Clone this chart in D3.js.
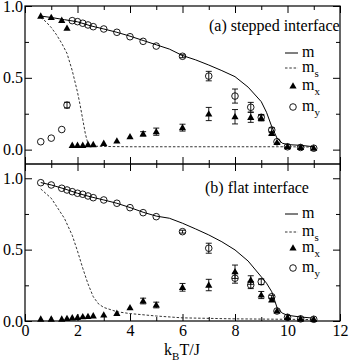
<!DOCTYPE html>
<html>
<head>
<meta charset="utf-8">
<script src="https://cdn.jsdelivr.net/npm/d3@7/dist/d3.min.js"></script>
<style>
  body { margin: 0; background: #fff; }
  svg { display: block; }
  svg text { font-family: "Liberation Serif", "Times New Roman", "DejaVu Serif", serif !important; fill: #000; }
</style>
</head>
<body>
<svg id="chart" width="349" height="363"></svg>
<script>
// temperatures of the simulated points (both panels)
const T_PTS = [0.6, 1.0, 1.4, 1.6, 1.8, 2.0, 2.2, 2.4, 2.6, 3.0, 3.5, 4.0, 4.5, 5.0, 6, 7, 8, 8.6, 9, 9.4, 9.6, 10, 10.5, 11];

// (a) stepped interface
const A_M_T = [0.6, 1, 1.5, 2, 2.5, 3, 3.5, 4, 4.5, 5, 5.5, 6, 6.5, 7, 7.5, 8, 8.5, 9, 9.2, 9.4, 9.6, 9.8, 10, 10.5, 11];
const A_M   = [0.93, 0.92, 0.905, 0.89, 0.862, 0.84, 0.817, 0.79, 0.76, 0.73, 0.70, 0.655, 0.625, 0.589, 0.55, 0.508, 0.435, 0.334, 0.26, 0.16, 0.08, 0.045, 0.035, 0.03, 0.02];
const A_MS_T = [0.6, 0.8, 1.0, 1.2, 1.4, 1.6, 1.8, 2.0, 2.1, 2.2, 2.3, 2.4, 2.5, 3, 4, 6, 8, 10, 11];
const A_MS   = [0.92, 0.89, 0.85, 0.80, 0.74, 0.67, 0.55, 0.40, 0.31, 0.21, 0.11, 0.04, 0.025, 0.022, 0.02, 0.02, 0.02, 0.02, 0.018];
const A_MX     = [0.93, 0.92, 0.90, 0.845, 0.03, 0.03, 0.03, 0.035, 0.035, 0.044, 0.06, 0.09, 0.11, 0.125, 0.153, 0.248, 0.229, 0.225, 0.22, 0.113, 0.05, 0.02, 0.015, 0.01];
const A_MX_ERR = [0, 0, 0, 0, 0, 0, 0, 0, 0, 0, 0, 0, 0.015, 0.025, 0.024, 0.046, 0.05, 0.035, 0.02, 0.01, 0, 0, 0, 0];
const A_MY     = [0.055, 0.08, 0.14, 0.31, 0.898, 0.891, 0.88, 0.868, 0.856, 0.84, 0.817, 0.786, 0.754, 0.721, 0.65, 0.512, 0.373, 0.295, 0.225, 0.137, 0.055, 0.02, 0.015, 0.01];
const A_MY_ERR = [0, 0, 0, 0.02, 0, 0, 0, 0, 0, 0, 0, 0, 0, 0, 0.01, 0.033, 0.049, 0.034, 0.02, 0.015, 0, 0, 0, 0];

// (b) flat interface
const B_M_T = [0.6, 1, 1.5, 2, 2.5, 3, 3.5, 4, 4.5, 5, 5.5, 6, 6.5, 7, 7.5, 8, 8.5, 9, 9.2, 9.4, 9.6, 9.8, 10, 10.5, 11];
const B_M   = [0.97, 0.953, 0.926, 0.895, 0.87, 0.848, 0.825, 0.795, 0.762, 0.735, 0.72, 0.685, 0.645, 0.603, 0.555, 0.498, 0.42, 0.31, 0.265, 0.205, 0.095, 0.055, 0.04, 0.028, 0.02];
const B_MS_T = [0.6, 1.0, 1.5, 1.8, 2.0, 2.2, 2.4, 2.6, 2.8, 3.0, 3.5, 4, 5, 6, 8, 10, 11];
const B_MS   = [0.925, 0.86, 0.72, 0.60, 0.49, 0.37, 0.26, 0.17, 0.12, 0.095, 0.065, 0.052, 0.035, 0.022, 0.015, 0.012, 0.01];
const B_MX     = [0.013, 0.013, 0.013, 0.018, 0.022, 0.025, 0.03, 0.032, 0.036, 0.042, 0.054, 0.093, 0.14, 0.112, 0.236, 0.252, 0.345, 0.287, 0.182, 0.147, 0.07, 0.026, 0.015, 0.012];
const B_MX_ERR = [0, 0, 0, 0, 0, 0, 0, 0, 0, 0, 0, 0, 0.02, 0.02, 0.027, 0.04, 0.047, 0.03, 0.025, 0.01, 0, 0, 0, 0];
const B_MY     = [0.969, 0.953, 0.930, 0.918, 0.906, 0.895, 0.888, 0.876, 0.864, 0.848, 0.825, 0.794, 0.759, 0.731, 0.626, 0.51, 0.30, 0.252, 0.275, 0.17, 0.07, 0.026, 0.015, 0.012];
const B_MY_ERR = [0, 0, 0, 0, 0, 0, 0, 0, 0, 0, 0, 0, 0, 0, 0.01, 0.035, 0.035, 0.025, 0.02, 0.01, 0, 0, 0, 0];

const X_MAJOR = [0, 2, 4, 6, 8, 10, 12];
const X_MINOR = [1, 3, 5, 7, 9, 11];
const Y_MAJOR = [0, 0.5, 1.0];
const Y_MINOR = [0.25, 0.75];
const LEGEND = ["m", "s", "x", "y"];

const SERIF = "'Liberation Serif', 'Times New Roman', 'DejaVu Serif', serif";
const svg = d3.select("#chart").attr("font-family", SERIF);
const left = 25, right = 340;
const x = d3.scaleLinear().domain([0, 12]).range([left, right]);

const panels = [
  { title: "(a) stepped interface", top: 6, bottom: 164, dom: [-0.1, 1.0], titleX: 209, titleY: 25,
    mT: A_M_T, m: A_M, msT: A_MS_T, ms: A_MS, mx: A_MX, mxErr: A_MX_ERR, my: A_MY, myErr: A_MY_ERR, legY: [47, 62, 80, 101], bottomLabels: false },
  { title: "(b) flat interface", top: 164, bottom: 321, dom: [0, 1.1], titleX: 205, titleY: 29,
    mT: B_M_T, m: B_M, msT: B_MS_T, ms: B_MS, mx: B_MX, mxErr: B_MX_ERR, my: B_MY, myErr: B_MY_ERR, legY: [50, 68, 84, 104], bottomLabels: true }
];

function triangle(g, cx, cy) {
  g.append("path")
    .attr("d", `M${cx},${cy - 3.8}L${cx + 3.6},${cy + 2.6}L${cx - 3.6},${cy + 2.6}Z`)
    .attr("fill", "#000");
}
function circle(g, cx, cy) {
  g.append("circle").attr("cx", cx).attr("cy", cy).attr("r", 3.3)
    .attr("fill", "none").attr("stroke", "#000").attr("stroke-width", 0.9);
}

panels.forEach(p => {
  const y = d3.scaleLinear().domain(p.dom).range([p.bottom, p.top]);
  const g = svg.append("g");

  // 轴刻度（向内）
  const tickStyle = sel => {
    sel.attr("font-family", SERIF).attr("font-size", 16);
    sel.select(".domain").remove();
    sel.selectAll("line").attr("stroke", "#000").attr("stroke-width", 1);
    sel.selectAll("text").style("font-size", "16px").style("font-family", SERIF);
  };
  g.append("g").attr("transform", `translate(${left},0)`)
    .call(d3.axisLeft(y).tickValues(Y_MAJOR).tickSize(-7).tickPadding(2).tickFormat(d3.format(".1f")))
    .call(tickStyle);
  g.append("g").attr("transform", `translate(${left},0)`)
    .call(d3.axisLeft(y).tickValues(Y_MINOR).tickSize(-4).tickFormat(""))
    .call(tickStyle);
  g.append("g").attr("transform", `translate(${right},0)`)
    .call(d3.axisRight(y).tickValues(Y_MAJOR).tickSize(-7).tickFormat(""))
    .call(tickStyle);
  g.append("g").attr("transform", `translate(${right},0)`)
    .call(d3.axisRight(y).tickValues(Y_MINOR).tickSize(-4).tickFormat(""))
    .call(tickStyle);
  g.append("g").attr("transform", `translate(0,${p.top})`)
    .call(d3.axisTop(x).tickValues(X_MAJOR).tickSize(-7).tickFormat(""))
    .call(tickStyle);
  g.append("g").attr("transform", `translate(0,${p.top})`)
    .call(d3.axisTop(x).tickValues(X_MINOR).tickSize(-4).tickFormat(""))
    .call(tickStyle);
  g.append("g").attr("transform", `translate(0,${p.bottom})`)
    .call(d3.axisBottom(x).tickValues(X_MAJOR).tickSize(-7).tickPadding(4)
      .tickFormat(p.bottomLabels ? d3.format("d") : ""))
    .call(tickStyle);
  g.append("g").attr("transform", `translate(0,${p.bottom})`)
    .call(d3.axisBottom(x).tickValues(X_MINOR).tickSize(-4).tickFormat(""))
    .call(tickStyle);

  // 曲线 m 和 m_s
  const line = d3.line().x(d => x(d[0])).y(d => y(d[1]));
  g.append("path").datum(d3.zip(p.mT, p.m)).attr("d", line)
    .attr("fill", "none").attr("stroke", "#000").attr("stroke-width", 1);
  g.append("path").datum(d3.zip(p.msT, p.ms)).attr("d", line)
    .attr("fill", "none").attr("stroke", "#000").attr("stroke-width", 0.8)
    .attr("stroke-dasharray", "2.5,1.8");

  // 误差棒
  const errBar = (t, v, e) => {
    if (!e) return;
    const cx = x(t), y1 = y(v - e), y2 = y(v + e);
    g.append("path")
      .attr("d", `M${cx},${y1}V${y2}M${cx - 3},${y1}H${cx + 3}M${cx - 3},${y2}H${cx + 3}`)
      .attr("fill", "none").attr("stroke", "#000").attr("stroke-width", 0.9);
  };
  T_PTS.forEach((t, i) => { errBar(t, p.my[i], p.myErr[i]); errBar(t, p.mx[i], p.mxErr[i]); });

  T_PTS.forEach((t, i) => circle(g, x(t), y(p.my[i])));
  T_PTS.forEach((t, i) => triangle(g, x(t), y(p.mx[i])));

  // 标题
  g.append("text").attr("x", p.titleX).attr("y", p.top + p.titleY)
    .style("font-size", "16px").text(p.title);

  // 图例
  const lx = 285, tx = 302;
  const ly = p.legY.map(v => p.top + v);
  g.append("line").attr("x1", lx).attr("x2", lx + 13).attr("y1", ly[0]).attr("y2", ly[0])
    .attr("stroke", "#000").attr("stroke-width", 1);
  g.append("line").attr("x1", lx).attr("x2", lx + 13).attr("y1", ly[1]).attr("y2", ly[1])
    .attr("stroke", "#000").attr("stroke-width", 0.8).attr("stroke-dasharray", "2.5,1.8");
  triangle(g, lx + 8, ly[2]);
  circle(g, lx + 8, ly[3]);
  LEGEND.forEach((s, k) => {
    const t = g.append("text").attr("x", tx).attr("y", ly[k] + 4).style("font-size", "16px").text("m");
    if (k > 0) t.append("tspan").attr("dy", 5).style("font-size", "11px").text(s);
  });
});

// 外框和中线
svg.append("rect").attr("x", left).attr("y", 6).attr("width", right - left).attr("height", 321 - 6)
  .attr("fill", "none").attr("stroke", "#000").attr("stroke-width", 1.2);
svg.append("line").attr("x1", left).attr("x2", right).attr("y1", 164).attr("y2", 164)
  .attr("stroke", "#000").attr("stroke-width", 1.6);

// x 轴标题 k_B T/J
const xt = svg.append("text").attr("x", 182).attr("y", 355).attr("text-anchor", "middle")
  .style("font-size", "16px");
xt.append("tspan").text("k");
xt.append("tspan").attr("dy", 5).style("font-size", "11px").text("B");
xt.append("tspan").attr("dy", -5).text("T/J");
</script>
</body>
</html>
